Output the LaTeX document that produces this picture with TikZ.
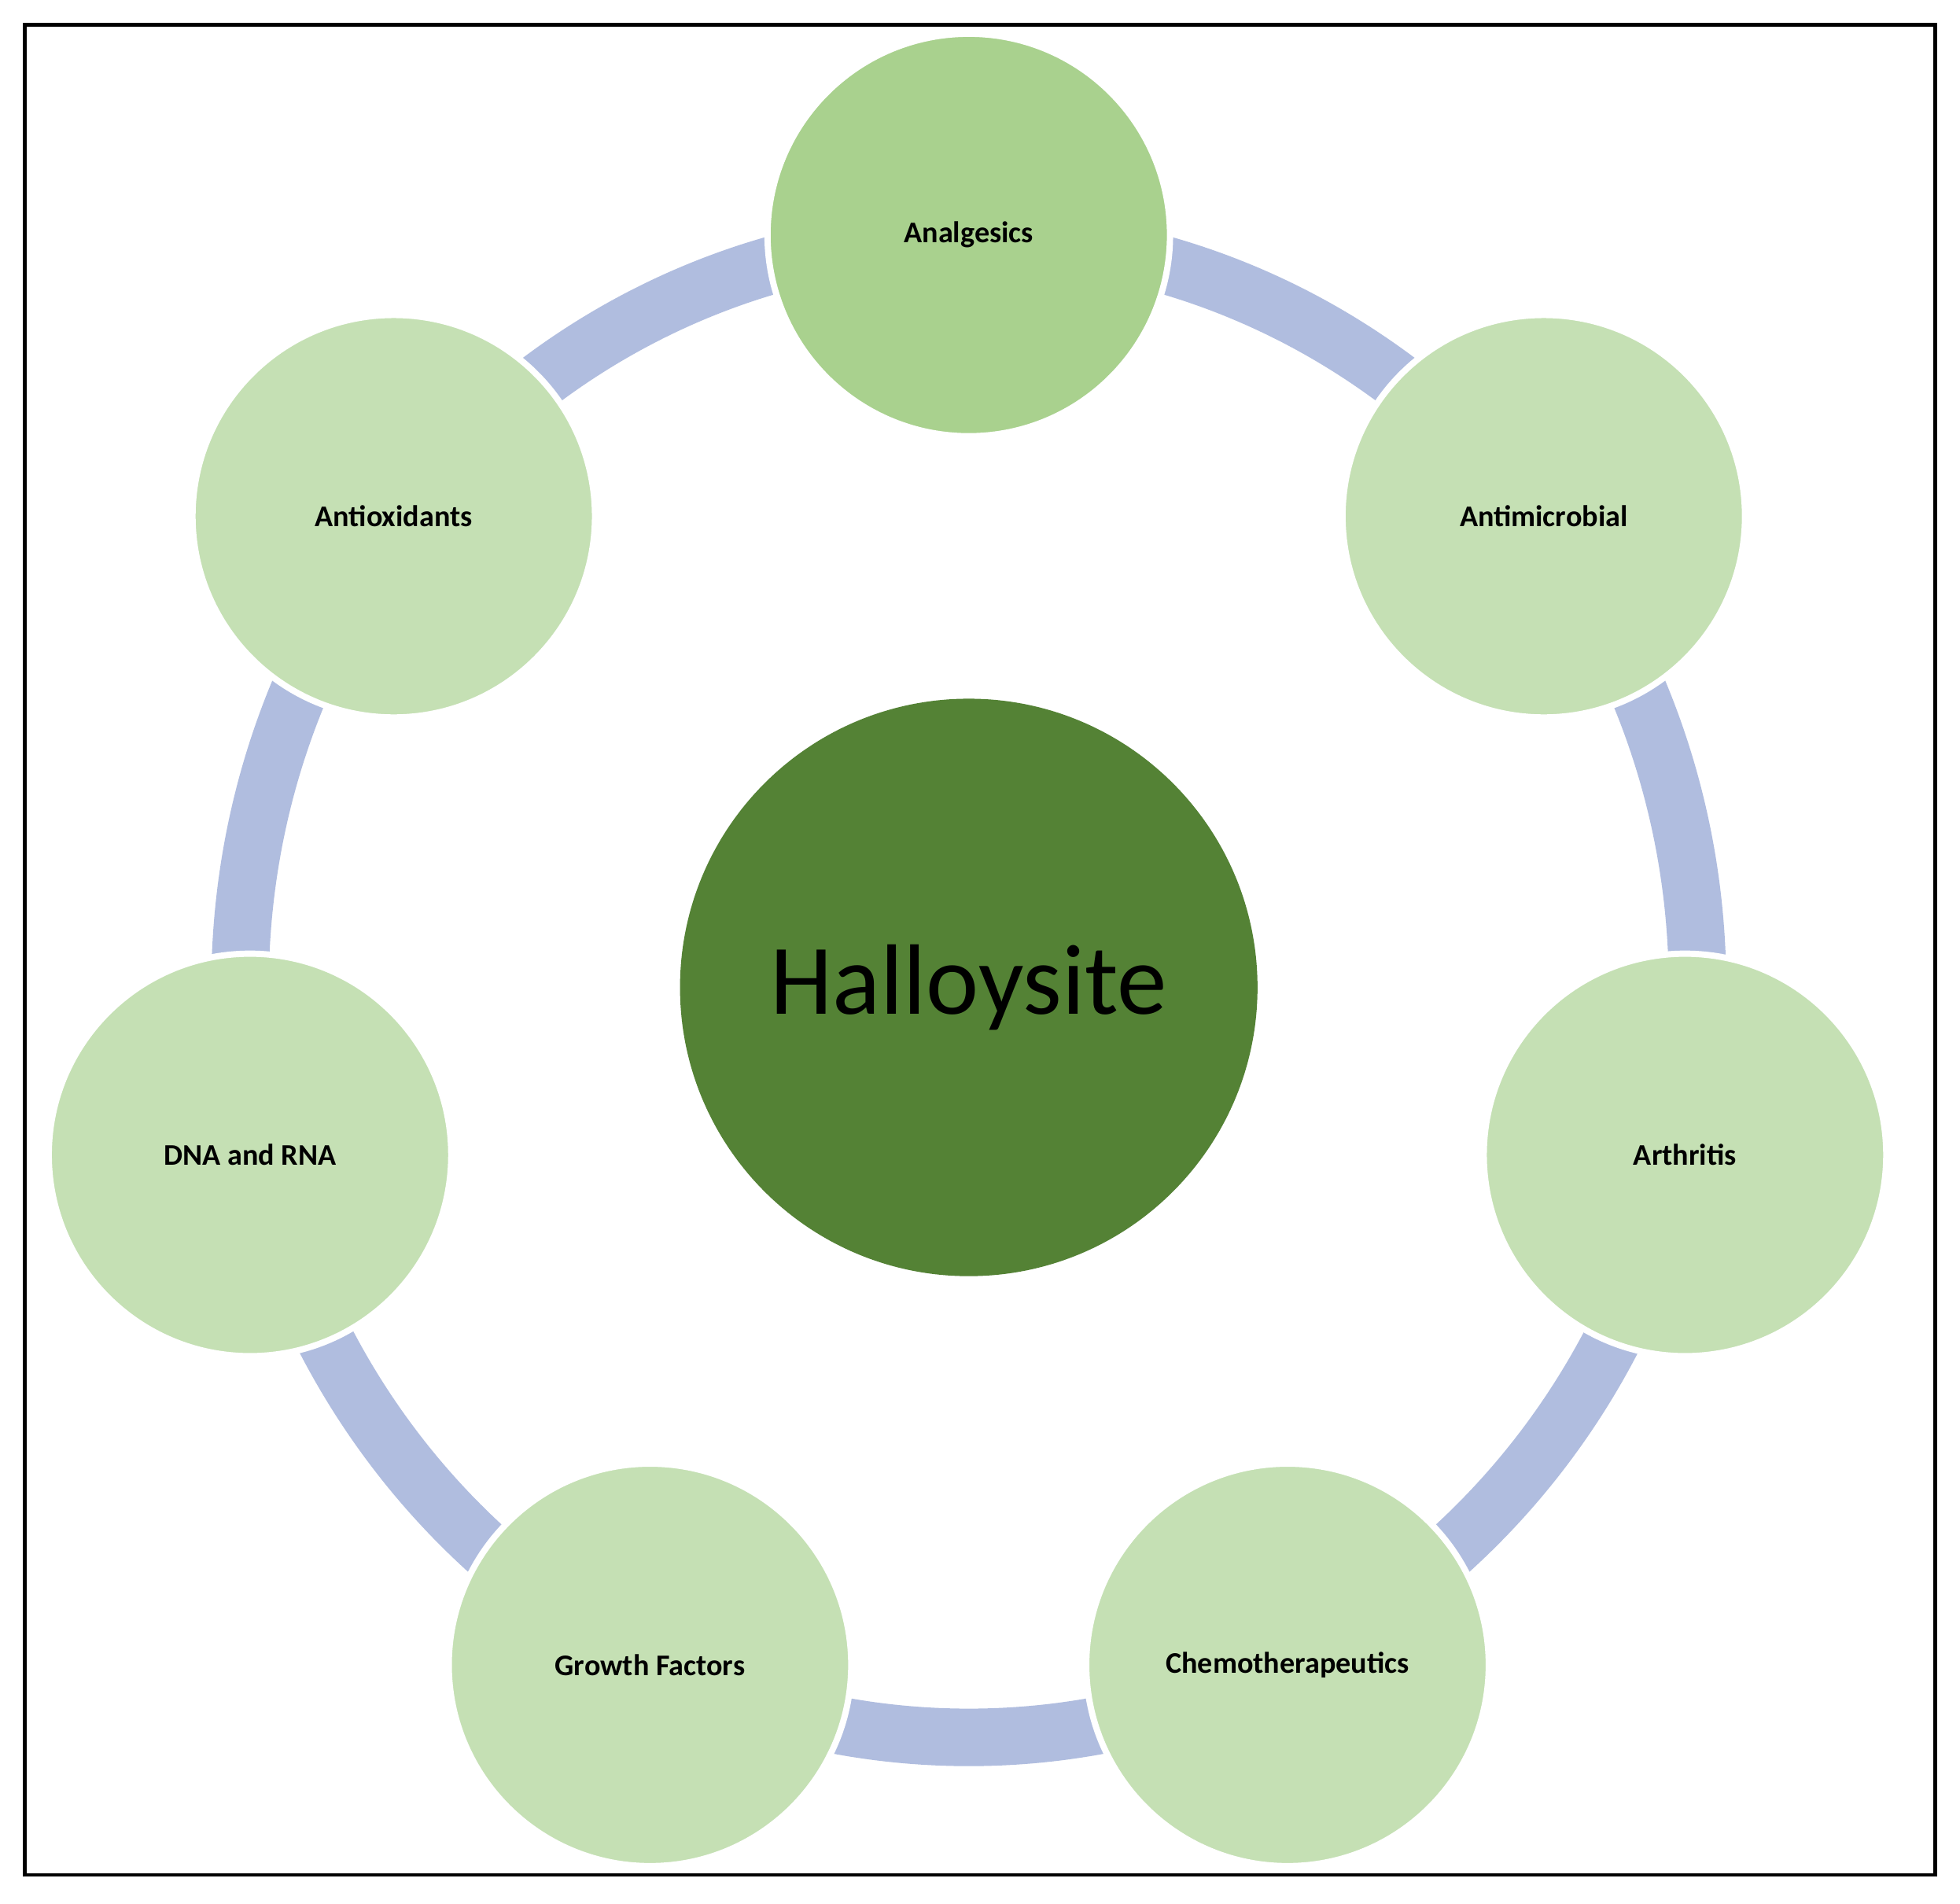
\documentclass[tikz,border=0pt]{standalone}
\usepackage{fontspec}
\setmainfont{Carlito}
\definecolor{ring}{HTML}{B0BDDF}
\definecolor{lg}{HTML}{C5E0B4}
\definecolor{mg}{HTML}{A9D18E}
\definecolor{dg}{HTML}{548235}
\begin{document}
\begin{tikzpicture}[x=1pt,y=-1pt,
  item/.style={circle,minimum size=322pt,inner sep=0pt,fill=lg,draw=white,line width=5pt,font=\fontsize{24}{28}\selectfont\bfseries}]
\useasboundingbox (0,0) rectangle (1568,1523);
\fill[white] (0,0) rectangle (1568,1523);
\draw[line width=3pt] (20,20) rectangle (1548,1500);
\draw[ring,line width=46pt] (775,790) ellipse [x radius=583, y radius=600];
\node[item,fill=mg] (a) at (775,188) {Analgesics};
\node[item] (b) at (1235,413) {Antimicrobial};
\node[item] (c) at (1348,924) {Arthritis};
\node[item] (d) at (1030,1332) {Chemotherapeutics};
\node[item] (e) at (520,1332) {Growth Factors};
\node[item] (f) at (200,924) {DNA and RNA};
\node[item] (g) at (315,413) {Antioxidants};
\node[circle,fill=dg,minimum size=462pt,inner sep=0pt,font=\fontsize{80}{90}\selectfont] (h) at (775,790) {Halloysite};
\end{tikzpicture}
\end{document}
